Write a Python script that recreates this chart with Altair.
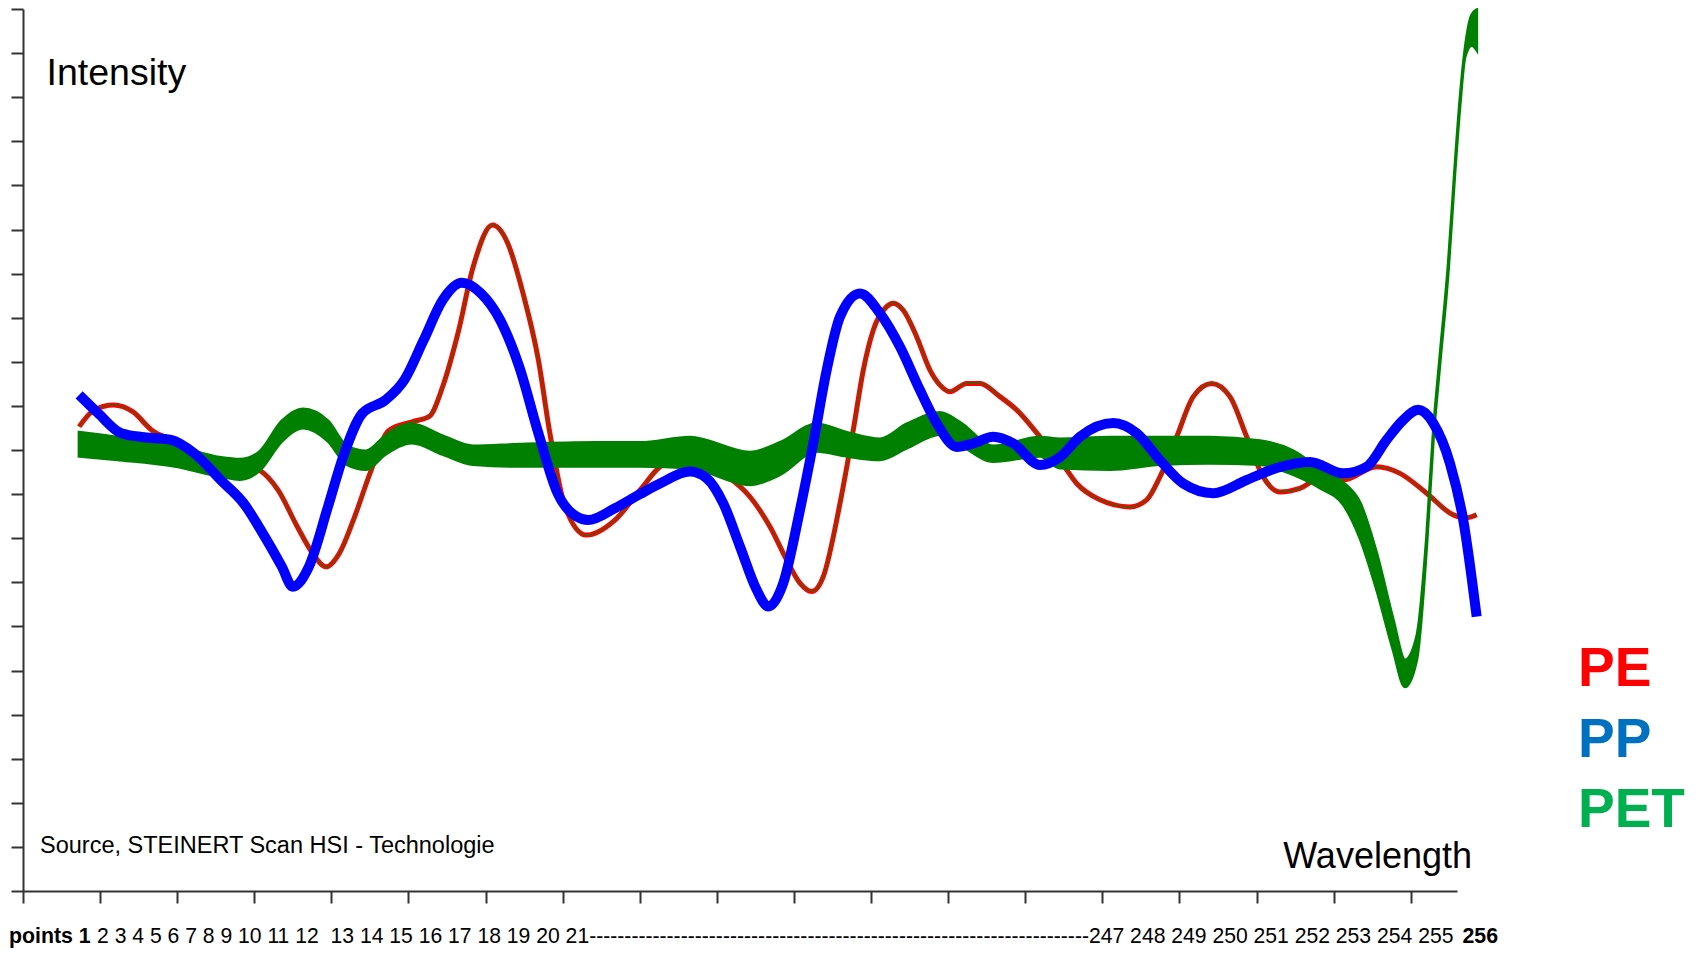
import altair as alt
import pandas as pd

# ---- data (x in axis-tick units, y in axis-tick units) ----
x_pe = [0.728, 0.926, 1.175, 1.423, 1.671, 1.920, 2.366, 2.763, 3.061, 3.309, 3.558, 3.756, 3.930, 4.104,
        4.302, 4.501, 4.748, 5.047, 5.270, 5.444, 5.642, 5.840, 6.089, 6.287, 6.486, 6.685, 6.834, 7.032,
        7.305, 7.677, 8.003, 8.262, 8.651, 9.083, 9.429, 9.689, 9.905, 10.078, 10.230, 10.380, 10.597,
        10.769, 10.899, 11.029, 11.202, 11.288, 11.418, 11.591, 11.764, 11.894, 12.023, 12.240, 12.412,
        12.672, 12.888, 13.191, 13.450, 13.667, 13.969, 14.358, 14.575, 14.747, 14.964, 15.179, 15.418,
        15.655, 15.872, 16.087, 16.304, 16.563, 16.822, 17.125, 17.558, 17.860, 18.206, 18.551, 18.716, 18.855]
y_pe = [10.53, 10.91, 11.02, 10.87, 10.45, 10.23, 9.85, 9.70, 9.55, 9.09, 8.26, 7.66, 7.35, 7.66,
        8.49, 9.47, 10.45, 10.64, 10.76, 11.44, 12.65, 14.16, 15.10, 14.69, 13.55, 12.04, 10.38, 8.71,
        8.07, 8.41, 9.09, 9.62, 9.89, 9.47, 8.94, 8.26, 7.51, 6.98, 6.79, 7.13, 8.79,
        10.45, 11.81, 12.72, 13.25, 13.33, 13.17, 12.57, 11.81, 11.47, 11.32, 11.51, 11.51,
        11.21, 10.91, 10.30, 9.77, 9.24, 8.87, 8.71, 8.87, 9.39, 10.30, 11.21, 11.51,
        11.21, 10.30, 9.39, 9.05, 9.13, 9.36, 9.32, 9.62, 9.47, 9.02, 8.53, 8.46, 8.53]

x_pp = [0.728, 0.977, 1.274, 1.572, 1.920, 2.218, 2.564, 2.863, 3.110, 3.359, 3.498, 3.707, 3.955, 4.153,
        4.401, 4.699, 4.947, 5.196, 5.444, 5.691, 5.940, 6.188, 6.436, 6.685, 6.933, 7.180, 7.329, 7.677,
        8.003, 8.262, 8.651, 8.868, 9.083, 9.300, 9.516, 9.667, 9.861, 10.078, 10.250, 10.424, 10.597,
        10.856, 11.115, 11.375, 11.634, 11.851, 12.110, 12.326, 12.585, 12.844, 13.191, 13.450, 13.710,
        14.141, 14.445, 14.747, 15.049, 15.438, 15.872, 16.261, 16.693, 17.125, 17.428, 17.687, 17.903,
        18.097, 18.292, 18.508, 18.681, 18.855]
y_pp = [11.25, 10.83, 10.38, 10.29, 10.23, 9.93, 9.32, 8.79, 8.11, 7.35, 6.90, 7.35, 8.71, 9.85,
        10.83, 11.13, 11.59, 12.49, 13.40, 13.79, 13.55, 12.95, 11.89, 10.38, 9.02, 8.49, 8.41, 8.68,
        9.00, 9.24, 9.51, 9.36, 8.79, 7.81, 6.83, 6.45, 6.98, 8.64, 10.15, 11.81, 13.02,
        13.55, 13.10, 12.34, 11.36, 10.61, 10.07, 10.15, 10.30, 10.15, 9.66, 9.84, 10.30,
        10.61, 10.38, 9.77, 9.24, 9.02, 9.32, 9.59, 9.73, 9.47, 9.62, 10.23, 10.68,
        10.91, 10.61, 9.70, 8.41, 6.22]

x_pet = [0.728, 1.224, 1.969, 2.564, 2.813, 3.061, 3.359, 3.632, 3.955, 4.202, 4.451, 4.699, 5.047,
         5.444, 5.840, 6.436, 7.429, 8.003, 8.651, 9.429, 9.818, 10.294, 10.683, 11.115, 11.462, 11.894,
         12.153, 12.585, 13.191, 13.450, 14.099, 14.747, 15.396, 16.044, 16.476, 16.822, 17.125, 17.341,
         17.558, 17.773, 17.925, 18.077, 18.206, 18.292, 18.379, 18.486, 18.573, 18.638, 18.703, 18.790, 18.855]
pet_top = [10.40, 10.29, 10.09, 9.83, 9.79, 9.95, 10.66, 10.93, 10.66, 10.09, 9.98, 10.32, 10.59,
           10.32, 10.09, 10.13, 10.17, 10.17, 10.29, 9.95, 10.17, 10.59, 10.40, 10.25, 10.59, 10.85,
           10.63, 10.09, 10.29, 10.25, 10.29, 10.29, 10.29, 10.21, 9.98, 9.57, 9.26, 8.81,
           7.66, 6.15, 5.24, 5.77, 8.03, 10.39, 12.13, 14.20, 16.42, 17.94, 19.07, 19.86, 19.98]
pet_bottom = [9.86, 9.78, 9.63, 9.40, 9.33, 9.52, 10.20, 10.50, 10.20, 9.67, 9.56, 9.90, 10.16,
              9.90, 9.67, 9.63, 9.63, 9.63, 9.59, 9.21, 9.44, 9.97, 9.86, 9.78, 10.04, 10.35,
              10.12, 9.74, 9.86, 9.59, 9.56, 9.67, 9.70, 9.67, 9.44, 9.14, 8.76, 8.00,
              6.83, 5.46, 4.63, 5.24, 7.81, 10.23, 11.97, 14.04, 16.30, 17.80, 18.91, 19.18, 19.07]

x_ticks = list(range(19))
y_ticks = list(range(21))

legend_labels = ["PE", "PP", "PET"]
legend_colors = ["#FF0000", "#0070C0", "#00B050"]

NB = "\u00a0"
label_start = "points" + NB + "1"
label_middle = (NB.join(["2", "3", "4", "5", "6", "7", "8", "9", "10", "11", "12"])
                + NB + NB + NB.join(["13", "14", "15", "16", "17", "18", "19", "20", "21"])
                + "-" * 71
                + NB.join(["247", "248", "249", "250", "251", "252", "253", "254", "255"]))
label_end = "256"

FONT = "Liberation Sans"

pe = pd.DataFrame({"x": x_pe, "y": y_pe})
pp = pd.DataFrame({"x": x_pp, "y": y_pp})
pet = pd.DataFrame({"x": x_pet, "top": pet_top, "bottom": pet_bottom})

xs = alt.Scale(domain=[0, 18.6], nice=False, zero=False)
ys = alt.Scale(domain=[0, 20], nice=False, zero=False)

axis_style = dict(labels=False, title=None, tickSize=12, grid=False, domain=True, ticks=True,
                  domainColor="#333333", tickColor="#333333", domainWidth=2, tickWidth=2)
x_axis = alt.Axis(values=x_ticks, **axis_style)
y_axis = alt.Axis(values=y_ticks, **axis_style)

X = alt.X("x:Q", scale=xs, axis=x_axis)

pe_line = alt.Chart(pe).mark_line(color="#FF0000", strokeWidth=5, interpolate="monotone").encode(
    x=X, y=alt.Y("y:Q", scale=ys, axis=y_axis),
)
pe_core = alt.Chart(pe).mark_line(color="#0A7A0A", strokeWidth=1.1, interpolate="monotone").encode(
    x=X, y=alt.Y("y:Q", scale=ys, axis=y_axis),
)
pet_band = alt.Chart(pet).mark_area(color="#008000", stroke="#008000", strokeWidth=3,
                                    interpolate="monotone", opacity=1).encode(
    x=X, y=alt.Y("top:Q", scale=ys, axis=y_axis), y2="bottom:Q",
)
pp_line = alt.Chart(pp).mark_line(color="#0000FF", strokeWidth=10, interpolate="monotone").encode(
    x=X, y=alt.Y("y:Q", scale=ys, axis=y_axis),
)


def label(text, x, y, size, align="left", bold=False, color="#000000"):
    return alt.Chart(pd.DataFrame({"t": [text]})).mark_text(
        align=align, baseline="alphabetic", font=FONT, fontSize=size,
        fontWeight="bold" if bold else "normal", color=color,
    ).encode(x=alt.value(x), y=alt.value(y), text="t:N")


SZ = 21.3
texts = [
    label("Intensity", 23.5, 76, 37.5),
    label("Source, STEINERT Scan HSI - Technologie", 17, 843.5, 23.5),
    label("Wavelength", 1449, 859, 36, align="right"),
    label(legend_labels[0], 1555, 677, 55, bold=True, color=legend_colors[0]),
    label(legend_labels[1], 1555, 747.5, 55, bold=True, color=legend_colors[1]),
    label(legend_labels[2], 1555, 818, 55, bold=True, color=legend_colors[2]),
    label(label_start, -14, 934, SZ, bold=True),
    label(label_middle, 74, 934, 21.15),
    label(label_end, 1475, 934, SZ, align="right", bold=True),
]

chart = alt.layer(pe_line, pe_core, pet_band, pp_line, *texts).properties(
    width=1434,
    height=882,
    padding={"left": 15, "top": 1, "right": 237, "bottom": 57},
    autosize=alt.AutoSizeParams(type="none"),
    background="white",
).configure_view(stroke=None)

chart.save("out.html", embed_options={"renderer": "svg", "actions": False})
